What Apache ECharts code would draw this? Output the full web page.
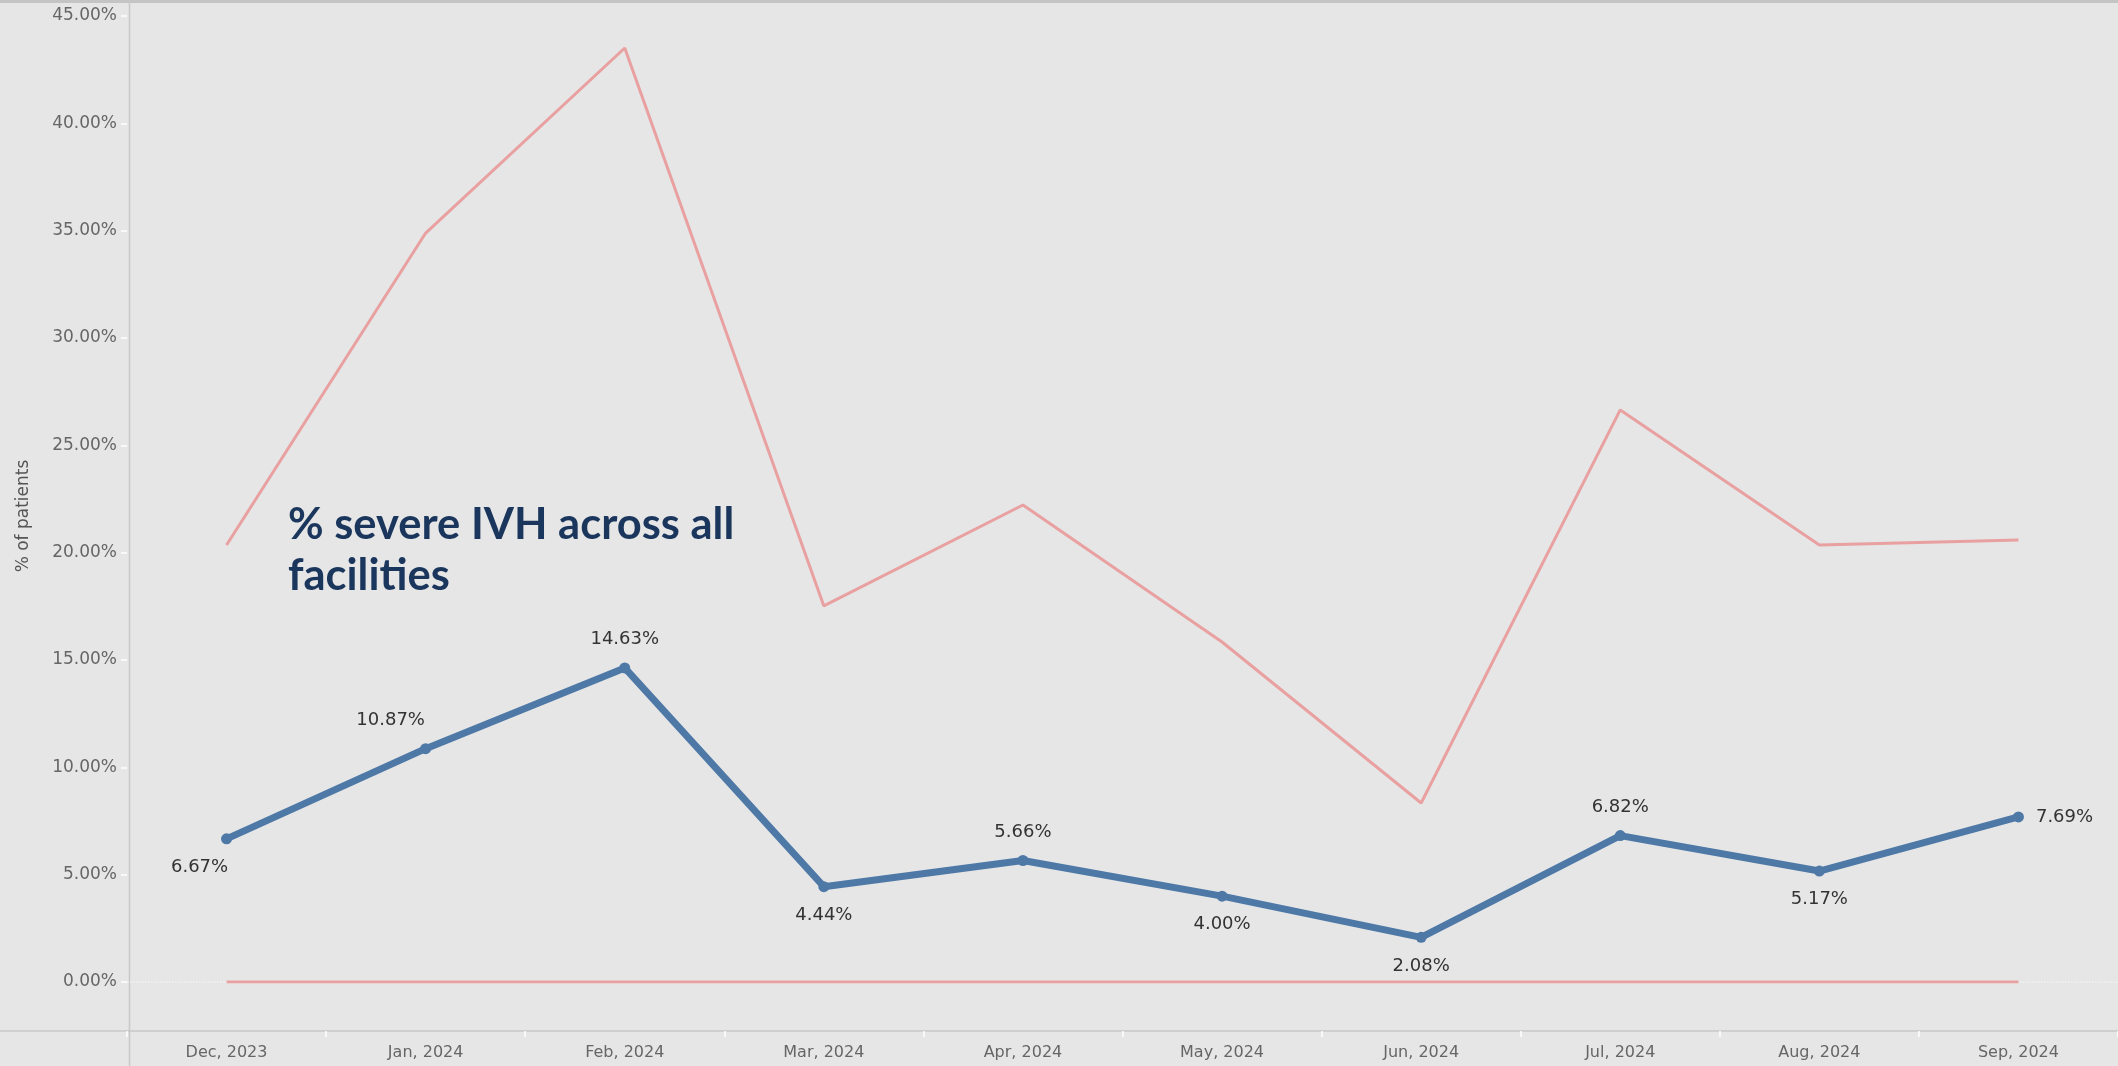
<!DOCTYPE html>
<html>
<head>
<meta charset="utf-8">
<script src="https://cdn.jsdelivr.net/npm/echarts@6/dist/echarts.min.js"></script>
<style>
html,body{margin:0;padding:0;background:#e6e6e6;}
#chart{width:2118px;height:1066px;}
</style>
</head>
<body>
<div id="chart"></div>
<script>
const months = ['Dec, 2023','Jan, 2024','Feb, 2024','Mar, 2024','Apr, 2024','May, 2024','Jun, 2024','Jul, 2024','Aug, 2024','Sep, 2024'];
const severeIVH = [6.67, 10.87, 14.63, 4.44, 5.66, 4.00, 2.08, 6.82, 5.17, 7.69];
const upperLimit = [20.36, 34.89, 43.51, 17.52, 22.22, 15.84, 8.34, 26.65, 20.36, 20.59];
const lowerLimit = [0, 0, 0, 0, 0, 0, 0, 0, 0, 0];
const yTicks = {min: 0, max: 45, interval: 5};

// label placement (style only)
const labelPlacement = [
  {position:'bottom', offset:[-27,2]},
  {position:'top', offset:[-35,-2]},
  {position:'top', offset:[0,-2]},
  {position:'bottom', offset:[0,2]},
  {position:'top', offset:[0,-2]},
  {position:'bottom', offset:[0,2]},
  {position:'bottom', offset:[0,2]},
  {position:'top', offset:[0,-2]},
  {position:'bottom', offset:[0,2]},
  {position:'right', offset:[0,0]}
];

const chart = echarts.init(document.getElementById('chart'));
const axisFont = 'DejaVu Sans';

chart.setOption({
  backgroundColor: '#e6e6e6',
  animation: false,
  title: {
    text: '% severe IVH across all\nfacilities',
    left: 283,
    top: 494,
    textStyle: {
      fontFamily: 'Lato',
      fontWeight: 'bold',
      fontSize: 43.5,
      lineHeight: 51,
      color: '#1b365d'
    }
  },
  grid: {left: 127, right: -3, top: 16, bottom: 84, containLabel: false},
  xAxis: {
    type: 'category',
    data: months,
    boundaryGap: true,
    offset: 49,
    axisLine: {show: true, onZero: false, lineStyle: {color: '#c8c8c8', width: 1.5}},
    axisTick: {show: true, length: 6, lineStyle: {color: '#ffffff', width: 1.5}},
    axisLabel: {fontFamily: axisFont, fontSize: 16, color: '#666666', margin: 14},
    splitLine: {show: false}
  },
  yAxis: {
    type: 'value',
    min: yTicks.min,
    max: yTicks.max,
    interval: yTicks.interval,
    axisLine: {show: false},
    axisTick: {show: true, length: 6, lineStyle: {color: '#ffffff', width: 1.5}},
    axisLabel: {
      fontFamily: axisFont, fontSize: 17, color: '#666666', margin: 10,
      formatter: v => v.toFixed(2) + '%'
    },
    splitLine: {show: false}
  },
  graphic: [
    {type: 'rect', shape: {x: 0, y: 0, width: 2118, height: 3}, style: {fill: '#c4c4c4'}, silent: true},
    {type: 'line', shape: {x1: 129.5, y1: 0, x2: 129.5, y2: 1066}, style: {stroke: '#c8c8c8', lineWidth: 1.5}, silent: true},
    {type: 'line', shape: {x1: 0, y1: 1031, x2: 130, y2: 1031}, style: {stroke: '#c8c8c8', lineWidth: 1.5}, silent: true},
    {type: 'text', x: 24, y: 516, rotation: Math.PI / 2, silent: true,
      style: {text: '% of patients', fontFamily: axisFont, fontSize: 17, fill: '#555555', align: 'center', verticalAlign: 'middle'}}
  ],
  series: [
    {
      name: 'Upper limit',
      type: 'line',
      data: upperLimit,
      symbol: 'none',
      lineStyle: {color: '#e9a0a0', width: 3},
      z: 2
    },
    {
      name: 'Lower limit',
      type: 'line',
      data: lowerLimit,
      symbol: 'none',
      lineStyle: {color: '#e9a0a0', width: 3},
      z: 2,
      markLine: {
        silent: true,
        symbol: 'none',
        label: {show: false},
        lineStyle: {color: '#f4f4f4', type: 'dotted', width: 1.5},
        data: [{yAxis: 0}],
        z: 1
      }
    },
    {
      name: '% severe IVH',
      type: 'line',
      data: severeIVH.map((v, i) => ({
        value: v,
        label: {position: labelPlacement[i].position, offset: labelPlacement[i].offset}
      })),
      symbol: 'circle',
      symbolSize: 11,
      itemStyle: {color: '#4e79a7'},
      lineStyle: {color: '#4e79a7', width: 7},
      label: {
        show: true,
        fontFamily: axisFont,
        fontSize: 18,
        color: '#333333',
        distance: 12,
        formatter: p => p.value.toFixed(2) + '%'
      },
      z: 3
    }
  ]
});
</script>
</body>
</html>
